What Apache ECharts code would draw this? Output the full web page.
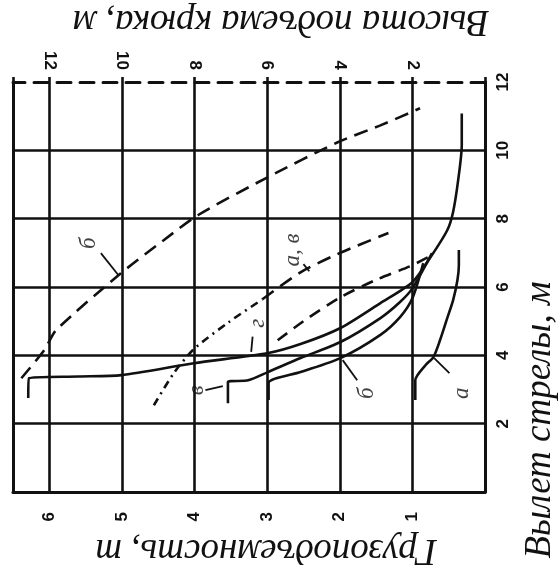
<!DOCTYPE html>
<html>
<head>
<meta charset="utf-8">
<script src="https://cdn.jsdelivr.net/npm/echarts@6/dist/echarts.min.js"></script>
<style>
  html, body { margin: 0; padding: 0; background: #fff; }
  #chart { width: 559px; height: 565px; }
</style>
</head>
<body>
<div id="chart"></div>
<script>
// Load-capacity curves: [capacity, t ; boom reach, m]
const capG = [[6.29,2.75],[6.28,3.33],[5.6,3.38],[5.01,3.42],[4.01,3.77],[3.0,4.06],[2.54,4.33],[1.99,4.8],[1.44,5.53],[1.0,6.14],[0.76,6.84],[0.52,7.66],[0.44,8.19],[0.37,9.12],[0.32,10.15],[0.32,11.08]];
const capV = [[3.54,2.6],[3.54,3.22],[3.26,3.27],[2.99,3.51],[2.54,3.92],[1.99,4.39],[1.44,5.09],[1.17,5.56],[1.0,5.96],[0.73,6.99]];
const capB = [[2.98,2.69],[2.98,3.19],[2.54,3.51],[1.99,3.92],[1.44,4.6],[1.17,5.12],[1.0,5.67],[0.85,6.7]];
const capA = [[0.96,2.69],[0.96,3.27],[0.82,3.71],[0.71,3.95],[0.62,4.44],[0.52,5.09],[0.44,5.61],[0.38,6.2],[0.36,6.64],[0.36,7.08]];

// Hook-height curves: [hook height, m ; boom reach, m]
const hookB  = [[12.77,3.33],[12.14,4.15],[11.81,4.74],[10.03,6.4],[8.85,7.37],[7.91,8.1],[5.99,9.21],[4.07,10.23],[2.88,10.73],[1.79,11.23]];
const hookG  = [[9.12,2.54],[8.57,3.48],[8.02,4.18],[7.06,4.97],[6.13,5.64]];
const hookAV = [[6.13,5.64],[5.08,6.43],[4.07,6.96],[2.66,7.58]];
const hookD  = [[5.71,4.44],[5.0,5.0],[3.98,5.7],[3.02,6.2],[2.06,6.61],[1.57,6.87]];

// Curve letters [capacity, reach, text] and their leader strokes
const letters = [[5.45,7.28,'б'],[2.65,7.08,'а, в'],[3.13,4.94,'г'],[3.97,2.98,'в'],[1.62,2.89,'б'],[0.32,2.89,'а']];
const leaders = [
  [[5.29,6.99],[5.05,6.35]],
  [[2.5,6.67],[2.42,6.46]],
  [[3.2,4.55],[3.22,4.1]],
  [[3.85,2.98],[3.61,3.1]],
  [[1.76,3.27],[1.96,3.86]],
  [[0.49,3.48],[0.70,3.92]]
];

const capacityTicks = [1,2,3,4,5,6];
const hookTicks = [2,4,6,8,10,12];
const reachTicks = [2,4,6,8,10,12];

const ink = '#111';
const tickFont = { color: ink, fontFamily: 'Liberation Sans', fontWeight: 'bold', fontSize: 17 };
const serif = 'Liberation Serif';

function solid(name, data) {
  return { name, type: 'line', xAxisIndex: 0, yAxisIndex: 0, data, smooth: 0.25,
    symbol: 'none', lineStyle: { color: ink, width: 2.6 }, z: 5 };
}
function dashed(name, data, dash) {
  return { name, type: 'line', xAxisIndex: 1, yAxisIndex: 0, data, smooth: 0.25,
    symbol: 'none', lineStyle: { color: ink, width: 2.6, type: dash }, z: 5 };
}

const series = [
  solid('Грузоподъемность г', capG),
  solid('Грузоподъемность в', capV),
  solid('Грузоподъемность б', capB),
  solid('Грузоподъемность а', capA),
  dashed('Высота б', hookB, [14, 8]),
  dashed('Высота г', hookG, [8, 5, 2, 5]),
  dashed('Высота а, в', hookAV, [14, 8]),
  dashed('Высота', hookD, [12, 8]),
  {
    type: 'scatter', xAxisIndex: 0, yAxisIndex: 0, symbolSize: 0, z: 6,
    data: letters.map(l => ({ value: [l[0], l[1]], name: l[2] })),
    label: { show: true, position: 'inside', formatter: p => p.name, rotate: 90,
      color: ink, fontFamily: serif, fontStyle: 'italic', fontSize: 23 }
  }
];
leaders.forEach(seg => series.push({
  type: 'line', xAxisIndex: 0, yAxisIndex: 0, data: seg, symbol: 'none',
  lineStyle: { color: ink, width: 1.8 }, z: 5
}));

function title(text, x, y, rotation) {
  return { type: 'text', x, y, rotation,
    style: { text, fill: ink, fontFamily: serif, fontStyle: 'italic', fontSize: 37,
      align: 'center', verticalAlign: 'middle' } };
}

const chart = echarts.init(document.getElementById('chart'), null, { renderer: 'canvas' });
chart.setOption({
  backgroundColor: '#fff',
  animation: false,
  grid: { left: 13, right: 74, top: 82, bottom: 73, containLabel: false },
  xAxis: [
    {
      type: 'value', position: 'bottom', inverse: true, min: 0, max: 6.5, interval: 1,
      axisLine: { show: true, onZero: false, lineStyle: { color: ink, width: 3 } },
      axisTick: { show: false },
      axisLabel: Object.assign({ rotate: 90, margin: 20,
        formatter: v => capacityTicks.includes(v) ? String(v) : '' }, tickFont),
      splitLine: { show: true, lineStyle: { color: ink, width: 2.6 } }
    },
    {
      type: 'value', position: 'top', inverse: true, min: 0, max: 13, interval: 2,
      axisLine: { show: true, onZero: false, lineStyle: { color: ink, width: 3, type: [14, 9] } },
      axisTick: { show: true, inside: false, length: 5, lineStyle: { color: ink, width: 2.6 } },
      axisLabel: Object.assign({ rotate: 90, margin: 12,
        formatter: v => hookTicks.includes(v) ? String(v) : '' }, tickFont),
      splitLine: { show: false }
    }
  ],
  yAxis: [
    {
      type: 'value', position: 'right', min: 0, max: 12, interval: 2,
      axisLine: { show: true, onZero: false, lineStyle: { color: ink, width: 3 } },
      axisTick: { show: false },
      axisLabel: Object.assign({ rotate: 90, margin: 10,
        formatter: v => reachTicks.includes(v) ? String(v) : '' }, tickFont),
      splitLine: { show: true, showMaxLine: false, lineStyle: { color: ink, width: 2.6 } }
    },
    {
      type: 'value', position: 'left', min: 0, max: 12, interval: 2,
      axisLine: { show: true, onZero: false, lineStyle: { color: ink, width: 3 } },
      axisTick: { show: false }, axisLabel: { show: false }, splitLine: { show: false }
    }
  ],
  graphic: [
    title('Высота подъема крюка, м', 281, 21, Math.PI),
    title('Грузоподъемность, т', 266, 550, Math.PI),
    title('Вылет стрелы, м', 540, 420, Math.PI / 2)
  ],
  series
});
</script>
</body>
</html>
